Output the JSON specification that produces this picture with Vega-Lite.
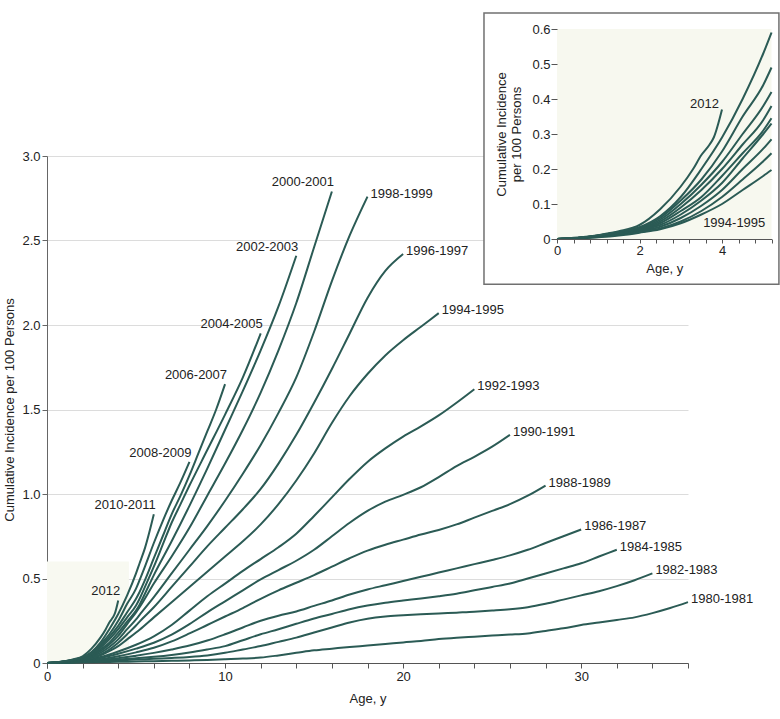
{
 "$schema": "https://vega.github.io/schema/vega-lite/v6.json",
 "autosize": {"type": "none"},
 "width": 641,
 "height": 507,
 "padding": {"left": 47, "top": 156, "right": 92, "bottom": 56},
 "background": "white",
 "config": {
  "view": {"stroke": null},
  "font": "Liberation Sans",
  "axis": {"labelFont": "Liberation Sans", "titleFont": "Liberation Sans", "labelFontSize": 13, "titleFontSize": 13, "titleFontWeight": "normal", "labelColor": "#222222", "titleColor": "#222222", "labelOverlap": false},
  "text": {"font": "Liberation Sans", "fontSize": 13, "color": "#222222"}
 },
 "datasets": {
  "curves": [
   {"c":"1980-1981","a":0,"v":0},{"c":"1980-1981","a":1,"v":0.002},{"c":"1980-1981","a":2,"v":0.004},{"c":"1980-1981","a":3,"v":0.006},{"c":"1980-1981","a":4,"v":0.007},{"c":"1980-1981","a":5,"v":0.009},{"c":"1980-1981","a":6,"v":0.011},{"c":"1980-1981","a":7,"v":0.013},{"c":"1980-1981","a":8,"v":0.015},{"c":"1980-1981","a":9,"v":0.018},{"c":"1980-1981","a":10,"v":0.022},{"c":"1980-1981","a":11,"v":0.026},{"c":"1980-1981","a":12,"v":0.032},{"c":"1980-1981","a":13,"v":0.045},{"c":"1980-1981","a":14,"v":0.06},{"c":"1980-1981","a":15,"v":0.075},{"c":"1980-1981","a":16,"v":0.085},{"c":"1980-1981","a":17,"v":0.095},{"c":"1980-1981","a":18,"v":0.103},{"c":"1980-1981","a":19,"v":0.112},{"c":"1980-1981","a":20,"v":0.122},{"c":"1980-1981","a":21,"v":0.13},{"c":"1980-1981","a":22,"v":0.142},{"c":"1980-1981","a":23,"v":0.15},{"c":"1980-1981","a":24,"v":0.156},{"c":"1980-1981","a":25,"v":0.162},{"c":"1980-1981","a":26,"v":0.168},{"c":"1980-1981","a":27,"v":0.175},{"c":"1980-1981","a":28,"v":0.19},{"c":"1980-1981","a":29,"v":0.205},{"c":"1980-1981","a":30,"v":0.225},{"c":"1980-1981","a":31,"v":0.24},{"c":"1980-1981","a":32,"v":0.255},{"c":"1980-1981","a":33,"v":0.27},{"c":"1980-1981","a":34,"v":0.295},{"c":"1980-1981","a":35,"v":0.325},{"c":"1980-1981","a":36,"v":0.36},
   {"c":"1982-1983","a":0,"v":0},{"c":"1982-1983","a":1,"v":0.002},{"c":"1982-1983","a":2,"v":0.006},{"c":"1982-1983","a":3,"v":0.01},{"c":"1982-1983","a":4,"v":0.015},{"c":"1982-1983","a":5,"v":0.02},{"c":"1982-1983","a":6,"v":0.025},{"c":"1982-1983","a":7,"v":0.03},{"c":"1982-1983","a":8,"v":0.036},{"c":"1982-1983","a":9,"v":0.045},{"c":"1982-1983","a":10,"v":0.06},{"c":"1982-1983","a":11,"v":0.08},{"c":"1982-1983","a":12,"v":0.1},{"c":"1982-1983","a":13,"v":0.125},{"c":"1982-1983","a":14,"v":0.15},{"c":"1982-1983","a":15,"v":0.18},{"c":"1982-1983","a":16,"v":0.21},{"c":"1982-1983","a":17,"v":0.24},{"c":"1982-1983","a":18,"v":0.262},{"c":"1982-1983","a":19,"v":0.275},{"c":"1982-1983","a":20,"v":0.282},{"c":"1982-1983","a":21,"v":0.288},{"c":"1982-1983","a":22,"v":0.293},{"c":"1982-1983","a":23,"v":0.298},{"c":"1982-1983","a":24,"v":0.303},{"c":"1982-1983","a":25,"v":0.31},{"c":"1982-1983","a":26,"v":0.318},{"c":"1982-1983","a":27,"v":0.33},{"c":"1982-1983","a":28,"v":0.35},{"c":"1982-1983","a":29,"v":0.375},{"c":"1982-1983","a":30,"v":0.4},{"c":"1982-1983","a":31,"v":0.425},{"c":"1982-1983","a":32,"v":0.455},{"c":"1982-1983","a":33,"v":0.49},{"c":"1982-1983","a":34,"v":0.53},
   {"c":"1984-1985","a":0,"v":0},{"c":"1984-1985","a":1,"v":0.002},{"c":"1984-1985","a":2,"v":0.008},{"c":"1984-1985","a":3,"v":0.014},{"c":"1984-1985","a":4,"v":0.02},{"c":"1984-1985","a":5,"v":0.028},{"c":"1984-1985","a":6,"v":0.037},{"c":"1984-1985","a":7,"v":0.048},{"c":"1984-1985","a":8,"v":0.062},{"c":"1984-1985","a":9,"v":0.08},{"c":"1984-1985","a":10,"v":0.1},{"c":"1984-1985","a":11,"v":0.135},{"c":"1984-1985","a":12,"v":0.17},{"c":"1984-1985","a":13,"v":0.2},{"c":"1984-1985","a":14,"v":0.232},{"c":"1984-1985","a":15,"v":0.263},{"c":"1984-1985","a":16,"v":0.29},{"c":"1984-1985","a":17,"v":0.318},{"c":"1984-1985","a":18,"v":0.34},{"c":"1984-1985","a":19,"v":0.357},{"c":"1984-1985","a":20,"v":0.37},{"c":"1984-1985","a":21,"v":0.382},{"c":"1984-1985","a":22,"v":0.395},{"c":"1984-1985","a":23,"v":0.41},{"c":"1984-1985","a":24,"v":0.43},{"c":"1984-1985","a":25,"v":0.45},{"c":"1984-1985","a":26,"v":0.47},{"c":"1984-1985","a":27,"v":0.5},{"c":"1984-1985","a":28,"v":0.53},{"c":"1984-1985","a":29,"v":0.56},{"c":"1984-1985","a":30,"v":0.59},{"c":"1984-1985","a":31,"v":0.63},{"c":"1984-1985","a":32,"v":0.67},
   {"c":"1986-1987","a":0,"v":0},{"c":"1986-1987","a":1,"v":0.003},{"c":"1986-1987","a":2,"v":0.01},{"c":"1986-1987","a":3,"v":0.018},{"c":"1986-1987","a":4,"v":0.028},{"c":"1986-1987","a":5,"v":0.043},{"c":"1986-1987","a":6,"v":0.06},{"c":"1986-1987","a":7,"v":0.08},{"c":"1986-1987","a":8,"v":0.103},{"c":"1986-1987","a":9,"v":0.133},{"c":"1986-1987","a":10,"v":0.17},{"c":"1986-1987","a":11,"v":0.21},{"c":"1986-1987","a":12,"v":0.25},{"c":"1986-1987","a":13,"v":0.28},{"c":"1986-1987","a":14,"v":0.305},{"c":"1986-1987","a":15,"v":0.338},{"c":"1986-1987","a":16,"v":0.37},{"c":"1986-1987","a":17,"v":0.405},{"c":"1986-1987","a":18,"v":0.435},{"c":"1986-1987","a":19,"v":0.46},{"c":"1986-1987","a":20,"v":0.485},{"c":"1986-1987","a":21,"v":0.51},{"c":"1986-1987","a":22,"v":0.535},{"c":"1986-1987","a":23,"v":0.56},{"c":"1986-1987","a":24,"v":0.585},{"c":"1986-1987","a":25,"v":0.61},{"c":"1986-1987","a":26,"v":0.637},{"c":"1986-1987","a":27,"v":0.67},{"c":"1986-1987","a":28,"v":0.71},{"c":"1986-1987","a":29,"v":0.75},{"c":"1986-1987","a":30,"v":0.79},
   {"c":"1988-1989","a":0,"v":0},{"c":"1988-1989","a":1,"v":0.003},{"c":"1988-1989","a":2,"v":0.012},{"c":"1988-1989","a":3,"v":0.022},{"c":"1988-1989","a":4,"v":0.04},{"c":"1988-1989","a":5,"v":0.063},{"c":"1988-1989","a":6,"v":0.09},{"c":"1988-1989","a":7,"v":0.128},{"c":"1988-1989","a":8,"v":0.175},{"c":"1988-1989","a":9,"v":0.225},{"c":"1988-1989","a":10,"v":0.275},{"c":"1988-1989","a":11,"v":0.325},{"c":"1988-1989","a":12,"v":0.38},{"c":"1988-1989","a":13,"v":0.43},{"c":"1988-1989","a":14,"v":0.475},{"c":"1988-1989","a":15,"v":0.52},{"c":"1988-1989","a":16,"v":0.57},{"c":"1988-1989","a":17,"v":0.62},{"c":"1988-1989","a":18,"v":0.665},{"c":"1988-1989","a":19,"v":0.7},{"c":"1988-1989","a":20,"v":0.73},{"c":"1988-1989","a":21,"v":0.76},{"c":"1988-1989","a":22,"v":0.787},{"c":"1988-1989","a":23,"v":0.82},{"c":"1988-1989","a":24,"v":0.86},{"c":"1988-1989","a":25,"v":0.9},{"c":"1988-1989","a":26,"v":0.94},{"c":"1988-1989","a":27,"v":0.99},{"c":"1988-1989","a":28,"v":1.05},
   {"c":"1990-1991","a":0,"v":0},{"c":"1990-1991","a":1,"v":0.004},{"c":"1990-1991","a":2,"v":0.014},{"c":"1990-1991","a":3,"v":0.03},{"c":"1990-1991","a":4,"v":0.055},{"c":"1990-1991","a":5,"v":0.085},{"c":"1990-1991","a":6,"v":0.12},{"c":"1990-1991","a":7,"v":0.168},{"c":"1990-1991","a":8,"v":0.23},{"c":"1990-1991","a":9,"v":0.3},{"c":"1990-1991","a":10,"v":0.365},{"c":"1990-1991","a":11,"v":0.43},{"c":"1990-1991","a":12,"v":0.495},{"c":"1990-1991","a":13,"v":0.55},{"c":"1990-1991","a":14,"v":0.605},{"c":"1990-1991","a":15,"v":0.67},{"c":"1990-1991","a":16,"v":0.75},{"c":"1990-1991","a":17,"v":0.83},{"c":"1990-1991","a":18,"v":0.9},{"c":"1990-1991","a":19,"v":0.955},{"c":"1990-1991","a":20,"v":0.995},{"c":"1990-1991","a":21,"v":1.04},{"c":"1990-1991","a":22,"v":1.1},{"c":"1990-1991","a":23,"v":1.165},{"c":"1990-1991","a":24,"v":1.22},{"c":"1990-1991","a":25,"v":1.28},{"c":"1990-1991","a":26,"v":1.35},
   {"c":"1992-1993","a":0,"v":0},{"c":"1992-1993","a":1,"v":0.004},{"c":"1992-1993","a":2,"v":0.016},{"c":"1992-1993","a":3,"v":0.035},{"c":"1992-1993","a":4,"v":0.068},{"c":"1992-1993","a":5,"v":0.108},{"c":"1992-1993","a":6,"v":0.158},{"c":"1992-1993","a":7,"v":0.225},{"c":"1992-1993","a":8,"v":0.31},{"c":"1992-1993","a":9,"v":0.395},{"c":"1992-1993","a":10,"v":0.47},{"c":"1992-1993","a":11,"v":0.545},{"c":"1992-1993","a":12,"v":0.615},{"c":"1992-1993","a":13,"v":0.685},{"c":"1992-1993","a":14,"v":0.765},{"c":"1992-1993","a":15,"v":0.87},{"c":"1992-1993","a":16,"v":0.98},{"c":"1992-1993","a":17,"v":1.09},{"c":"1992-1993","a":18,"v":1.19},{"c":"1992-1993","a":19,"v":1.27},{"c":"1992-1993","a":20,"v":1.34},{"c":"1992-1993","a":21,"v":1.4},{"c":"1992-1993","a":22,"v":1.465},{"c":"1992-1993","a":23,"v":1.54},{"c":"1992-1993","a":24,"v":1.62},
   {"c":"1994-1995","a":0,"v":0},{"c":"1994-1995","a":0.5,"v":0.002},{"c":"1994-1995","a":1,"v":0.005},{"c":"1994-1995","a":1.5,"v":0.01},{"c":"1994-1995","a":2,"v":0.018},{"c":"1994-1995","a":2.5,"v":0.028},{"c":"1994-1995","a":3,"v":0.045},{"c":"1994-1995","a":3.5,"v":0.07},{"c":"1994-1995","a":4,"v":0.1},{"c":"1994-1995","a":4.5,"v":0.14},{"c":"1994-1995","a":5,"v":0.18},{"c":"1994-1995","a":5.2,"v":0.197},{"c":"1994-1995","a":6,"v":0.27},{"c":"1994-1995","a":7,"v":0.36},{"c":"1994-1995","a":8,"v":0.45},{"c":"1994-1995","a":9,"v":0.54},{"c":"1994-1995","a":10,"v":0.63},{"c":"1994-1995","a":11,"v":0.72},{"c":"1994-1995","a":12,"v":0.82},{"c":"1994-1995","a":13,"v":0.94},{"c":"1994-1995","a":14,"v":1.08},{"c":"1994-1995","a":15,"v":1.24},{"c":"1994-1995","a":16,"v":1.42},{"c":"1994-1995","a":17,"v":1.58},{"c":"1994-1995","a":18,"v":1.71},{"c":"1994-1995","a":19,"v":1.82},{"c":"1994-1995","a":20,"v":1.91},{"c":"1994-1995","a":21,"v":1.99},{"c":"1994-1995","a":22,"v":2.07},
   {"c":"1996-1997","a":0,"v":0},{"c":"1996-1997","a":0.5,"v":0.002},{"c":"1996-1997","a":1,"v":0.006},{"c":"1996-1997","a":1.5,"v":0.012},{"c":"1996-1997","a":2,"v":0.02},{"c":"1996-1997","a":2.5,"v":0.03},{"c":"1996-1997","a":3,"v":0.05},{"c":"1996-1997","a":3.5,"v":0.08},{"c":"1996-1997","a":4,"v":0.12},{"c":"1996-1997","a":4.5,"v":0.17},{"c":"1996-1997","a":5,"v":0.222},{"c":"1996-1997","a":5.2,"v":0.245},{"c":"1996-1997","a":6,"v":0.33},{"c":"1996-1997","a":7,"v":0.45},{"c":"1996-1997","a":8,"v":0.57},{"c":"1996-1997","a":9,"v":0.69},{"c":"1996-1997","a":10,"v":0.8},{"c":"1996-1997","a":11,"v":0.91},{"c":"1996-1997","a":12,"v":1.03},{"c":"1996-1997","a":13,"v":1.18},{"c":"1996-1997","a":14,"v":1.35},{"c":"1996-1997","a":15,"v":1.54},{"c":"1996-1997","a":16,"v":1.74},{"c":"1996-1997","a":17,"v":1.95},{"c":"1996-1997","a":18,"v":2.16},{"c":"1996-1997","a":19,"v":2.32},{"c":"1996-1997","a":20,"v":2.42},
   {"c":"1998-1999","a":0,"v":0},{"c":"1998-1999","a":0.5,"v":0.003},{"c":"1998-1999","a":1,"v":0.007},{"c":"1998-1999","a":1.5,"v":0.013},{"c":"1998-1999","a":2,"v":0.022},{"c":"1998-1999","a":2.5,"v":0.035},{"c":"1998-1999","a":3,"v":0.06},{"c":"1998-1999","a":3.5,"v":0.095},{"c":"1998-1999","a":4,"v":0.14},{"c":"1998-1999","a":4.5,"v":0.2},{"c":"1998-1999","a":5,"v":0.258},{"c":"1998-1999","a":5.2,"v":0.285},{"c":"1998-1999","a":6,"v":0.39},{"c":"1998-1999","a":7,"v":0.53},{"c":"1998-1999","a":8,"v":0.67},{"c":"1998-1999","a":9,"v":0.81},{"c":"1998-1999","a":10,"v":0.96},{"c":"1998-1999","a":11,"v":1.12},{"c":"1998-1999","a":12,"v":1.29},{"c":"1998-1999","a":13,"v":1.48},{"c":"1998-1999","a":14,"v":1.69},{"c":"1998-1999","a":15,"v":1.96},{"c":"1998-1999","a":16,"v":2.26},{"c":"1998-1999","a":17,"v":2.53},{"c":"1998-1999","a":18,"v":2.76},
   {"c":"2000-2001","a":0,"v":0},{"c":"2000-2001","a":0.5,"v":0.003},{"c":"2000-2001","a":1,"v":0.008},{"c":"2000-2001","a":1.5,"v":0.015},{"c":"2000-2001","a":2,"v":0.024},{"c":"2000-2001","a":2.5,"v":0.04},{"c":"2000-2001","a":3,"v":0.07},{"c":"2000-2001","a":3.5,"v":0.11},{"c":"2000-2001","a":4,"v":0.16},{"c":"2000-2001","a":4.5,"v":0.23},{"c":"2000-2001","a":5,"v":0.3},{"c":"2000-2001","a":5.2,"v":0.33},{"c":"2000-2001","a":6,"v":0.47},{"c":"2000-2001","a":7,"v":0.63},{"c":"2000-2001","a":8,"v":0.8},{"c":"2000-2001","a":9,"v":0.99},{"c":"2000-2001","a":10,"v":1.18},{"c":"2000-2001","a":11,"v":1.38},{"c":"2000-2001","a":12,"v":1.6},{"c":"2000-2001","a":13,"v":1.85},{"c":"2000-2001","a":14,"v":2.13},{"c":"2000-2001","a":15,"v":2.46},{"c":"2000-2001","a":16,"v":2.79},
   {"c":"2002-2003","a":0,"v":0},{"c":"2002-2003","a":0.5,"v":0.003},{"c":"2002-2003","a":1,"v":0.008},{"c":"2002-2003","a":1.5,"v":0.016},{"c":"2002-2003","a":2,"v":0.026},{"c":"2002-2003","a":2.5,"v":0.045},{"c":"2002-2003","a":3,"v":0.08},{"c":"2002-2003","a":3.5,"v":0.12},{"c":"2002-2003","a":4,"v":0.18},{"c":"2002-2003","a":4.5,"v":0.245},{"c":"2002-2003","a":5,"v":0.31},{"c":"2002-2003","a":5.2,"v":0.345},{"c":"2002-2003","a":5.5,"v":0.41},{"c":"2002-2003","a":6,"v":0.52},{"c":"2002-2003","a":7,"v":0.72},{"c":"2002-2003","a":8,"v":0.93},{"c":"2002-2003","a":9,"v":1.15},{"c":"2002-2003","a":10,"v":1.38},{"c":"2002-2003","a":11,"v":1.61},{"c":"2002-2003","a":12,"v":1.85},{"c":"2002-2003","a":13,"v":2.11},{"c":"2002-2003","a":14,"v":2.41},
   {"c":"2004-2005","a":0,"v":0},{"c":"2004-2005","a":0.5,"v":0.003},{"c":"2004-2005","a":1,"v":0.009},{"c":"2004-2005","a":1.5,"v":0.017},{"c":"2004-2005","a":2,"v":0.028},{"c":"2004-2005","a":2.5,"v":0.05},{"c":"2004-2005","a":3,"v":0.09},{"c":"2004-2005","a":3.5,"v":0.14},{"c":"2004-2005","a":4,"v":0.2},{"c":"2004-2005","a":4.5,"v":0.27},{"c":"2004-2005","a":5,"v":0.34},{"c":"2004-2005","a":5.2,"v":0.38},{"c":"2004-2005","a":5.5,"v":0.45},{"c":"2004-2005","a":6,"v":0.57},{"c":"2004-2005","a":6.5,"v":0.7},{"c":"2004-2005","a":7,"v":0.83},{"c":"2004-2005","a":7.5,"v":0.94},{"c":"2004-2005","a":8,"v":1.05},{"c":"2004-2005","a":9,"v":1.26},{"c":"2004-2005","a":10,"v":1.47},{"c":"2004-2005","a":11,"v":1.69},{"c":"2004-2005","a":12,"v":1.95},
   {"c":"2006-2007","a":0,"v":0},{"c":"2006-2007","a":0.5,"v":0.003},{"c":"2006-2007","a":1,"v":0.009},{"c":"2006-2007","a":1.5,"v":0.018},{"c":"2006-2007","a":2,"v":0.03},{"c":"2006-2007","a":2.5,"v":0.055},{"c":"2006-2007","a":3,"v":0.1},{"c":"2006-2007","a":3.5,"v":0.155},{"c":"2006-2007","a":4,"v":0.22},{"c":"2006-2007","a":4.5,"v":0.3},{"c":"2006-2007","a":5,"v":0.38},{"c":"2006-2007","a":5.2,"v":0.42},{"c":"2006-2007","a":5.5,"v":0.49},{"c":"2006-2007","a":6,"v":0.62},{"c":"2006-2007","a":6.5,"v":0.75},{"c":"2006-2007","a":7,"v":0.88},{"c":"2006-2007","a":7.5,"v":0.99},{"c":"2006-2007","a":8,"v":1.11},{"c":"2006-2007","a":8.5,"v":1.24},{"c":"2006-2007","a":9,"v":1.37},{"c":"2006-2007","a":9.5,"v":1.5},{"c":"2006-2007","a":10,"v":1.65},
   {"c":"2008-2009","a":0,"v":0},{"c":"2008-2009","a":0.5,"v":0.003},{"c":"2008-2009","a":1,"v":0.01},{"c":"2008-2009","a":1.5,"v":0.02},{"c":"2008-2009","a":2,"v":0.032},{"c":"2008-2009","a":2.5,"v":0.06},{"c":"2008-2009","a":3,"v":0.11},{"c":"2008-2009","a":3.5,"v":0.17},{"c":"2008-2009","a":4,"v":0.25},{"c":"2008-2009","a":4.5,"v":0.35},{"c":"2008-2009","a":5,"v":0.44},{"c":"2008-2009","a":5.2,"v":0.49},{"c":"2008-2009","a":5.5,"v":0.57},{"c":"2008-2009","a":6,"v":0.71},{"c":"2008-2009","a":6.5,"v":0.84},{"c":"2008-2009","a":7,"v":0.96},{"c":"2008-2009","a":7.5,"v":1.07},{"c":"2008-2009","a":8,"v":1.19},
   {"c":"2010-2011","a":0,"v":0},{"c":"2010-2011","a":0.5,"v":0.003},{"c":"2010-2011","a":1,"v":0.01},{"c":"2010-2011","a":1.5,"v":0.02},{"c":"2010-2011","a":2,"v":0.034},{"c":"2010-2011","a":2.5,"v":0.065},{"c":"2010-2011","a":3,"v":0.12},{"c":"2010-2011","a":3.5,"v":0.2},{"c":"2010-2011","a":4,"v":0.29},{"c":"2010-2011","a":4.5,"v":0.4},{"c":"2010-2011","a":5,"v":0.53},{"c":"2010-2011","a":5.2,"v":0.59},{"c":"2010-2011","a":5.5,"v":0.68},{"c":"2010-2011","a":6,"v":0.88},
   {"c":"2012","a":0,"v":0},{"c":"2012","a":0.5,"v":0.004},{"c":"2012","a":1,"v":0.011},{"c":"2012","a":1.5,"v":0.022},{"c":"2012","a":2,"v":0.04},{"c":"2012","a":2.5,"v":0.085},{"c":"2012","a":3,"v":0.15},{"c":"2012","a":3.3,"v":0.2},{"c":"2012","a":3.5,"v":0.24},{"c":"2012","a":3.7,"v":0.27},{"c":"2012","a":3.8,"v":0.29},{"c":"2012","a":4,"v":0.37}
  ]
 },
 "resolve": {"scale": {"x": "independent", "y": "independent"}, "axis": {"x": "independent", "y": "independent"}},
 "layer": [
  {
   "resolve": {"axis": {"x": "independent"}},
   "layer": [
    {
     "data": {"values": [{}]},
     "mark": {"type": "rect", "fill": "#f8f9f1"},
     "encoding": {
      "x": {"datum": 0, "type": "quantitative", "scale": {"domain": [0, 36], "nice": false, "zero": false},
       "axis": {"orient": "bottom", "title": null, "values": [0,2,4,6,8,12,14,16,18,22,24,26,28,32,34,36], "labels": false, "domain": false, "grid": false, "tickColor": "#555555", "tickSize": 5, "zindex": 0}},
      "x2": {"datum": 4.6},
      "y": {"datum": 0, "type": "quantitative"},
      "y2": {"datum": 0.6}
     }
    },
    {
     "data": {"name": "curves"},
     "mark": {"type": "line", "color": "#2b5b55", "strokeWidth": 2, "interpolate": "monotone"},
     "encoding": {
      "x": {"field": "a", "type": "quantitative", "scale": {"domain": [0, 36], "nice": false, "zero": false},
       "axis": {"orient": "bottom", "title": "Age, y", "values": [0, 10, 20, 30], "format": "d", "labelOverlap": false, "grid": false, "domainColor": "#555555", "tickColor": "#555555", "tickSize": 5, "labelPadding": 2, "titlePadding": 9, "zindex": 0, "labelFlush": false}},
      "y": {"field": "v", "type": "quantitative", "scale": {"domain": [0, 3], "nice": false},
       "axis": {"title": "Cumulative Incidence per 100 Persons", "values": [0,0.5,1,1.5,2,2.5,3], "labelExpr": "datum.value === 0 ? '0' : format(datum.value, '.1f')", "labelOverlap": false, "grid": true, "gridColor": "#dcdcdc", "domainColor": "#666666", "tickColor": "#666666", "tickSize": 5, "labelPadding": 2, "titlePadding": 5, "zindex": 0}},
      "detail": {"field": "c"}
     }
    },
    {
     "data": {"name": "curves"},
     "transform": [
      {"joinaggregate": [{"op": "max", "field": "a", "as": "maxa"}], "groupby": ["c"]},
      {"filter": "datum.a === datum.maxa && datum.c < '2000'"}
     ],
     "mark": {"type": "text", "align": "left", "baseline": "middle", "dx": 3, "dy": -3},
     "encoding": {
      "x": {"field": "a", "type": "quantitative", "axis": null},
      "y": {"field": "v", "type": "quantitative"},
      "text": {"field": "c"}
     }
    },
    {
     "data": {"name": "curves"},
     "transform": [
      {"joinaggregate": [{"op": "max", "field": "a", "as": "maxa"}], "groupby": ["c"]},
      {"filter": "datum.a === datum.maxa && datum.c >= '2000'"}
     ],
     "mark": {"type": "text", "align": "right", "baseline": "middle", "dx": 2, "dy": -9},
     "encoding": {
      "x": {"field": "a", "type": "quantitative", "axis": null},
      "y": {"field": "v", "type": "quantitative"},
      "text": {"field": "c"}
     }
    }
   ]
  },
  {
   "layer": [
    {
     "data": {"values": [{}]},
     "mark": {"type": "rect", "fill": "white", "stroke": "#707070", "strokeWidth": 1.5},
     "encoding": {
      "x": {"datum": -1.77, "type": "quantitative"},
      "x2": {"datum": 5.38},
      "y": {"datum": -0.129, "type": "quantitative"},
      "y2": {"datum": 0.646}
     }
    },
    {
     "data": {"values": [{}]},
     "mark": {"type": "rect", "fill": "#f7f8ef"},
     "encoding": {
      "x": {"datum": 0, "type": "quantitative"},
      "x2": {"datum": 5.2},
      "y": {"datum": 0, "type": "quantitative"},
      "y2": {"datum": 0.6}
     }
    },
    {
     "data": {"name": "curves"},
     "transform": [{"filter": "datum.c >= '1994' && datum.a <= 5.2"}],
     "mark": {"type": "line", "color": "#2b5b55", "strokeWidth": 2, "interpolate": "monotone"},
     "encoding": {
      "x": {"field": "a", "type": "quantitative", "scale": {"domain": [0, 5.2], "range": [510, 724.5], "nice": false, "zero": false},
       "axis": {"orient": "bottom", "offset": -424, "title": "Age, y", "values": [0,0.4,0.8,1.2,1.6,2,2.4,2.8,3.2,3.6,4,4.4,4.8,5.2], "labelExpr": "datum.value === 0 ? '0' : datum.value === 2 ? '2' : datum.value === 4 ? '4' : ''", "labelOverlap": false, "grid": false, "domainColor": "#555555", "tickColor": "#555555", "tickSize": 4, "labelPadding": 1, "titlePadding": 5, "zindex": 2, "labelFlush": false}},
      "y": {"field": "v", "type": "quantitative", "scale": {"domain": [0, 0.6], "range": [83, -127], "nice": false},
       "axis": {"orient": "left", "offset": -510, "title": ["Cumulative Incidence", "per 100 Persons"], "titleLineHeight": 15, "values": [0,0.1,0.2,0.3,0.4,0.5,0.6], "labelExpr": "datum.value === 0 ? '0' : format(datum.value, '.1f')", "labelOverlap": false, "grid": false, "domain": false, "tickColor": "#555555", "tickSize": 6, "labelPadding": 1, "titlePadding": 8, "zindex": 2}},
      "detail": {"field": "c"}
     }
    },
    {
     "data": {"name": "curves"},
     "transform": [{"filter": "datum.c === '2012' && datum.a === 4"}],
     "mark": {"type": "text", "align": "right", "baseline": "middle", "dx": -3, "dy": -6},
     "encoding": {
      "x": {"field": "a", "type": "quantitative"},
      "y": {"field": "v", "type": "quantitative"},
      "text": {"field": "c"}
     }
    },
    {
     "data": {"values": [{}]},
     "mark": {"type": "text", "align": "right", "baseline": "middle"},
     "encoding": {
      "x": {"datum": 5.05, "type": "quantitative"},
      "y": {"datum": 0.046, "type": "quantitative"},
      "text": {"value": "1994-1995"}
     }
    }
   ]
  }
 ]
}
